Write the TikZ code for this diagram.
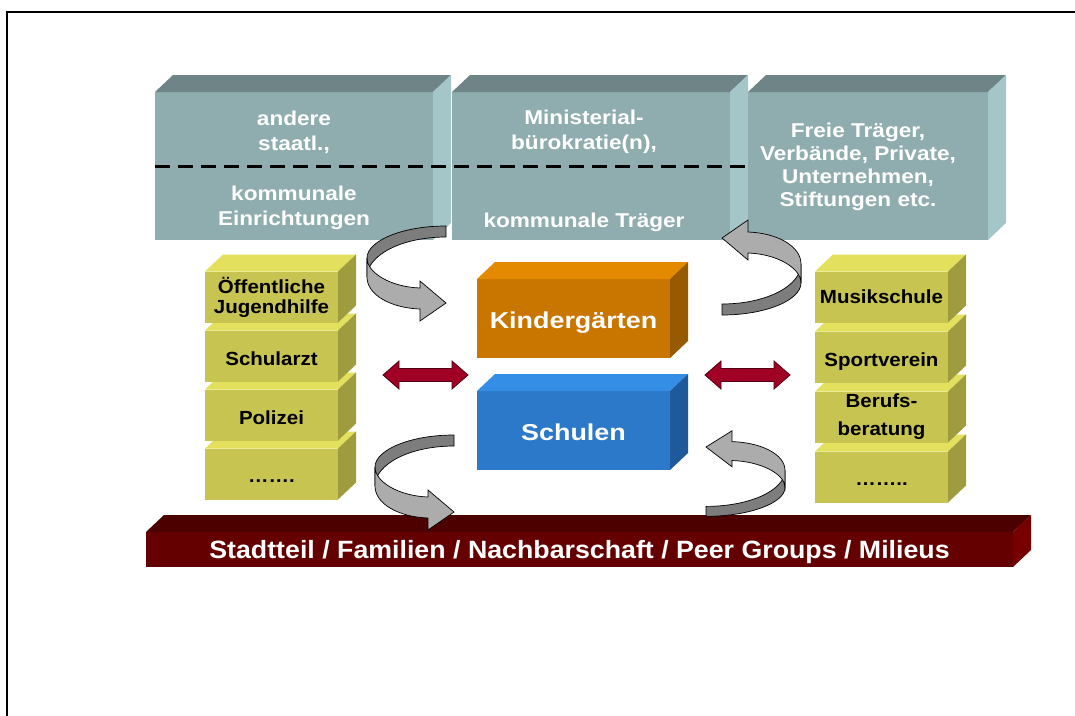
\documentclass[tikz,border=0pt]{standalone}
\usepackage{fontspec}
\setmainfont{Liberation Sans}
\newfontfamily\topfont{Liberation Sans}[FakeStretch=1.13]
\newfontfamily\boxfont{Liberation Sans}[FakeStretch=1.08]
\newfontfamily\midfont{Liberation Sans}[FakeStretch=1.17]
\newfontfamily\barfont{Liberation Sans}[FakeStretch=1.07]
\usepackage{tikz}
\usetikzlibrary{positioning}

\definecolor{tealfront}{RGB}{143,173,174}
\definecolor{tealtop}{RGB}{110,132,134}
\definecolor{tealside}{RGB}{165,198,200}
\definecolor{gelbfront}{RGB}{200,196,82}
\definecolor{gelbtop}{RGB}{226,224,92}
\definecolor{gelbside}{RGB}{158,156,62}
\definecolor{orafront}{RGB}{200,118,0}
\definecolor{oratop}{RGB}{228,138,0}
\definecolor{oraside}{RGB}{152,90,0}
\definecolor{blaufront}{RGB}{45,121,201}
\definecolor{blautop}{RGB}{52,142,230}
\definecolor{blauside}{RGB}{30,90,155}
\definecolor{barfront}{RGB}{100,0,0}
\definecolor{bartop}{RGB}{76,0,0}
\definecolor{barside}{RGB}{118,0,0}
\definecolor{rotpfeil}{RGB}{160,0,36}
\definecolor{bogendunkel}{RGB}{125,125,125}
\definecolor{bogenhell}{RGB}{172,172,172}

\tikzset{kasten/.style={rectangle,inner sep=0pt,outer sep=0pt},
  traeger/.style={kasten,fill=tealfront,minimum width=278pt,minimum height=148pt},
  gelb/.style={kasten,fill=gelbfront,minimum width=133pt,minimum height=51pt,align=center,
    font=\boxfont\bfseries\fontsize{19}{20}\selectfont},
  einzeilig/.style={text height=18pt,text depth=0pt},
  punkte/.style={text height=16pt,text depth=0pt},
  mitte/.style={kasten,minimum width=193pt,minimum height=79pt,text=white,
    text height=19pt,text depth=0pt,font=\midfont\bfseries\fontsize{23}{27}\selectfont},
  weiss/.style={text=white,align=center,font=\topfont\bfseries\fontsize{20}{25}\selectfont},
  bogenhinten/.style={fill=bogendunkel,draw=black,line width=0.7pt},
  bogenvorn/.style={fill=bogenhell,draw=black,line width=0.7pt},
  bogen/.pic={
    \path[bogenhinten] (0,-77) .. controls (-44,-77) and (-79,-62) .. (-79,-45) -- (-79,-26)
      .. controls (-79,-48) and (-44,-66) .. (0,-66) -- cycle;
    \path[bogenvorn] (-79,-45) .. controls (-79,-30) and (-55,-16) .. (-26,-15) -- (-26,-22)
      -- (0,0) -- (-26,18) -- (-26,6) .. controls (-55,5) and (-79,-8) .. (-79,-26) -- cycle;
  },
  doppelpfeil/.pic={
    \path[fill=rotpfeil,draw=rotpfeil!50!black,line width=0.8pt] (-42.5,0) -- (-26.5,-14)
      -- (-26.5,-6.5) -- (26.5,-6.5) -- (26.5,-14) -- (42.5,0) -- (26.5,14) -- (26.5,6.5)
      -- (-26.5,6.5) -- (-26.5,14) -- cycle;
  }}

% Deckflaeche und Seitenflaeche zu einer Vorderseite
\newcommand{\tiefe}[3]{%
  \fill[#2] (#1.north west) -- ++(18,-17) -- ([shift={(18,-17)}]#1.north east) -- (#1.north east) -- cycle;
  \fill[#3] (#1.north east) -- ++(18,-17) -- ([shift={(18,-17)}]#1.south east) -- (#1.south east) -- cycle;}

\begin{document}
\begin{tikzpicture}[x=1pt,y=-1pt]
    \useasboundingbox (0,0) rectangle (1075,715);
    \draw[line width=2pt] (7,730) |- (1090,12);

    % Traeger oben
    \node[traeger] (land) at (294,166) {};
    \tiefe{land}{tealtop}{tealside}
    \node[traeger] (ministerium) [right=19pt of land] {};
    \tiefe{ministerium}{tealtop}{tealside}
    \node[traeger,minimum width=240pt] (freie) [right=18pt of ministerium] {};
    \tiefe{freie}{tealtop}{tealside}
    \draw[line width=3pt,dash pattern=on 15pt off 8pt] (land.west) -- ([xshift=-2pt]freie.west);

    \node[weiss] (andere) at (294,132) {andere\\staatl.,};
    \node[weiss] (kommunal) at (294,208) {kommunale\\Einrichtungen};
    \node[weiss] (ministerial) at (584,132) {Ministerial-\\bürokratie(n),};
    \node[weiss] (kommtraeger) at (584,222) {kommunale Träger};
    \node[weiss,font=\topfont\bfseries\fontsize{20}{23}\selectfont] (freietraeger) at (858,167)
        {Freie Träger,\\Verbände, Private,\\Unternehmen,\\Stiftungen etc.};

    % linke Saeule, von unten nach oben
    \node[gelb,punkte] (lpunkte) at (271.5,474) {…….};
    \tiefe{lpunkte}{gelbtop}{gelbside}
    \node[gelb,einzeilig] (polizei) [above=8pt of lpunkte] {Polizei};
    \tiefe{polizei}{gelbtop}{gelbside}
    \node[gelb,einzeilig] (schularzt) [above=8pt of polizei] {Schularzt};
    \tiefe{schularzt}{gelbtop}{gelbside}
    \node[gelb] (jugendhilfe) [above=8pt of schularzt] {Öffentliche\\Jugendhilfe};
    \tiefe{jugendhilfe}{gelbtop}{gelbside}

    % rechte Saeule, von unten nach oben
    \node[gelb,punkte] (rpunkte) at (881.5,477) {……..};
    \tiefe{rpunkte}{gelbtop}{gelbside}
    \node[gelb] (beruf) [above=9pt of rpunkte] {Berufs-\\[8pt]beratung};
    \tiefe{beruf}{gelbtop}{gelbside}
    \node[gelb,einzeilig] (sportverein) [above=9pt of beruf] {Sportverein};
    \tiefe{sportverein}{gelbtop}{gelbside}
    \node[gelb] (musikschule) [above=9pt of sportverein] {Musikschule};
    \tiefe{musikschule}{gelbtop}{gelbside}

    % Mitte
    \node[mitte,fill=orafront] (kiga) at (573.5,318.5) {Kindergärten};
    \tiefe{kiga}{oratop}{oraside}
    \node[mitte,fill=blaufront] (schulen) [below=33pt of kiga] {Schulen};
    \tiefe{schulen}{blautop}{blauside}

    % Sockel
    \node[kasten,fill=barfront,minimum width=867pt,minimum height=35pt,text=white,
        text height=17pt,text depth=0pt,
        font=\barfont\bfseries\fontsize{25}{30}\selectfont] (stadtteil) at (579.5,549.5)
        {Stadtteil / Familien / Nachbarschaft / Peer Groups / Milieus};
    \tiefe{stadtteil}{bartop}{barside}

    % Pfeile
    \pic at (425.5,375) {doppelpfeil};
    \pic at (747.5,375) {doppelpfeil};
    \pic at (446,303) {bogen};
    \pic[rotate=180] at (722,238) {bogen};
    \pic at (454,512) {bogen};
    \pic[rotate=180,yscale=0.9] at (706,447) {bogen};
\end{tikzpicture}
\end{document}
